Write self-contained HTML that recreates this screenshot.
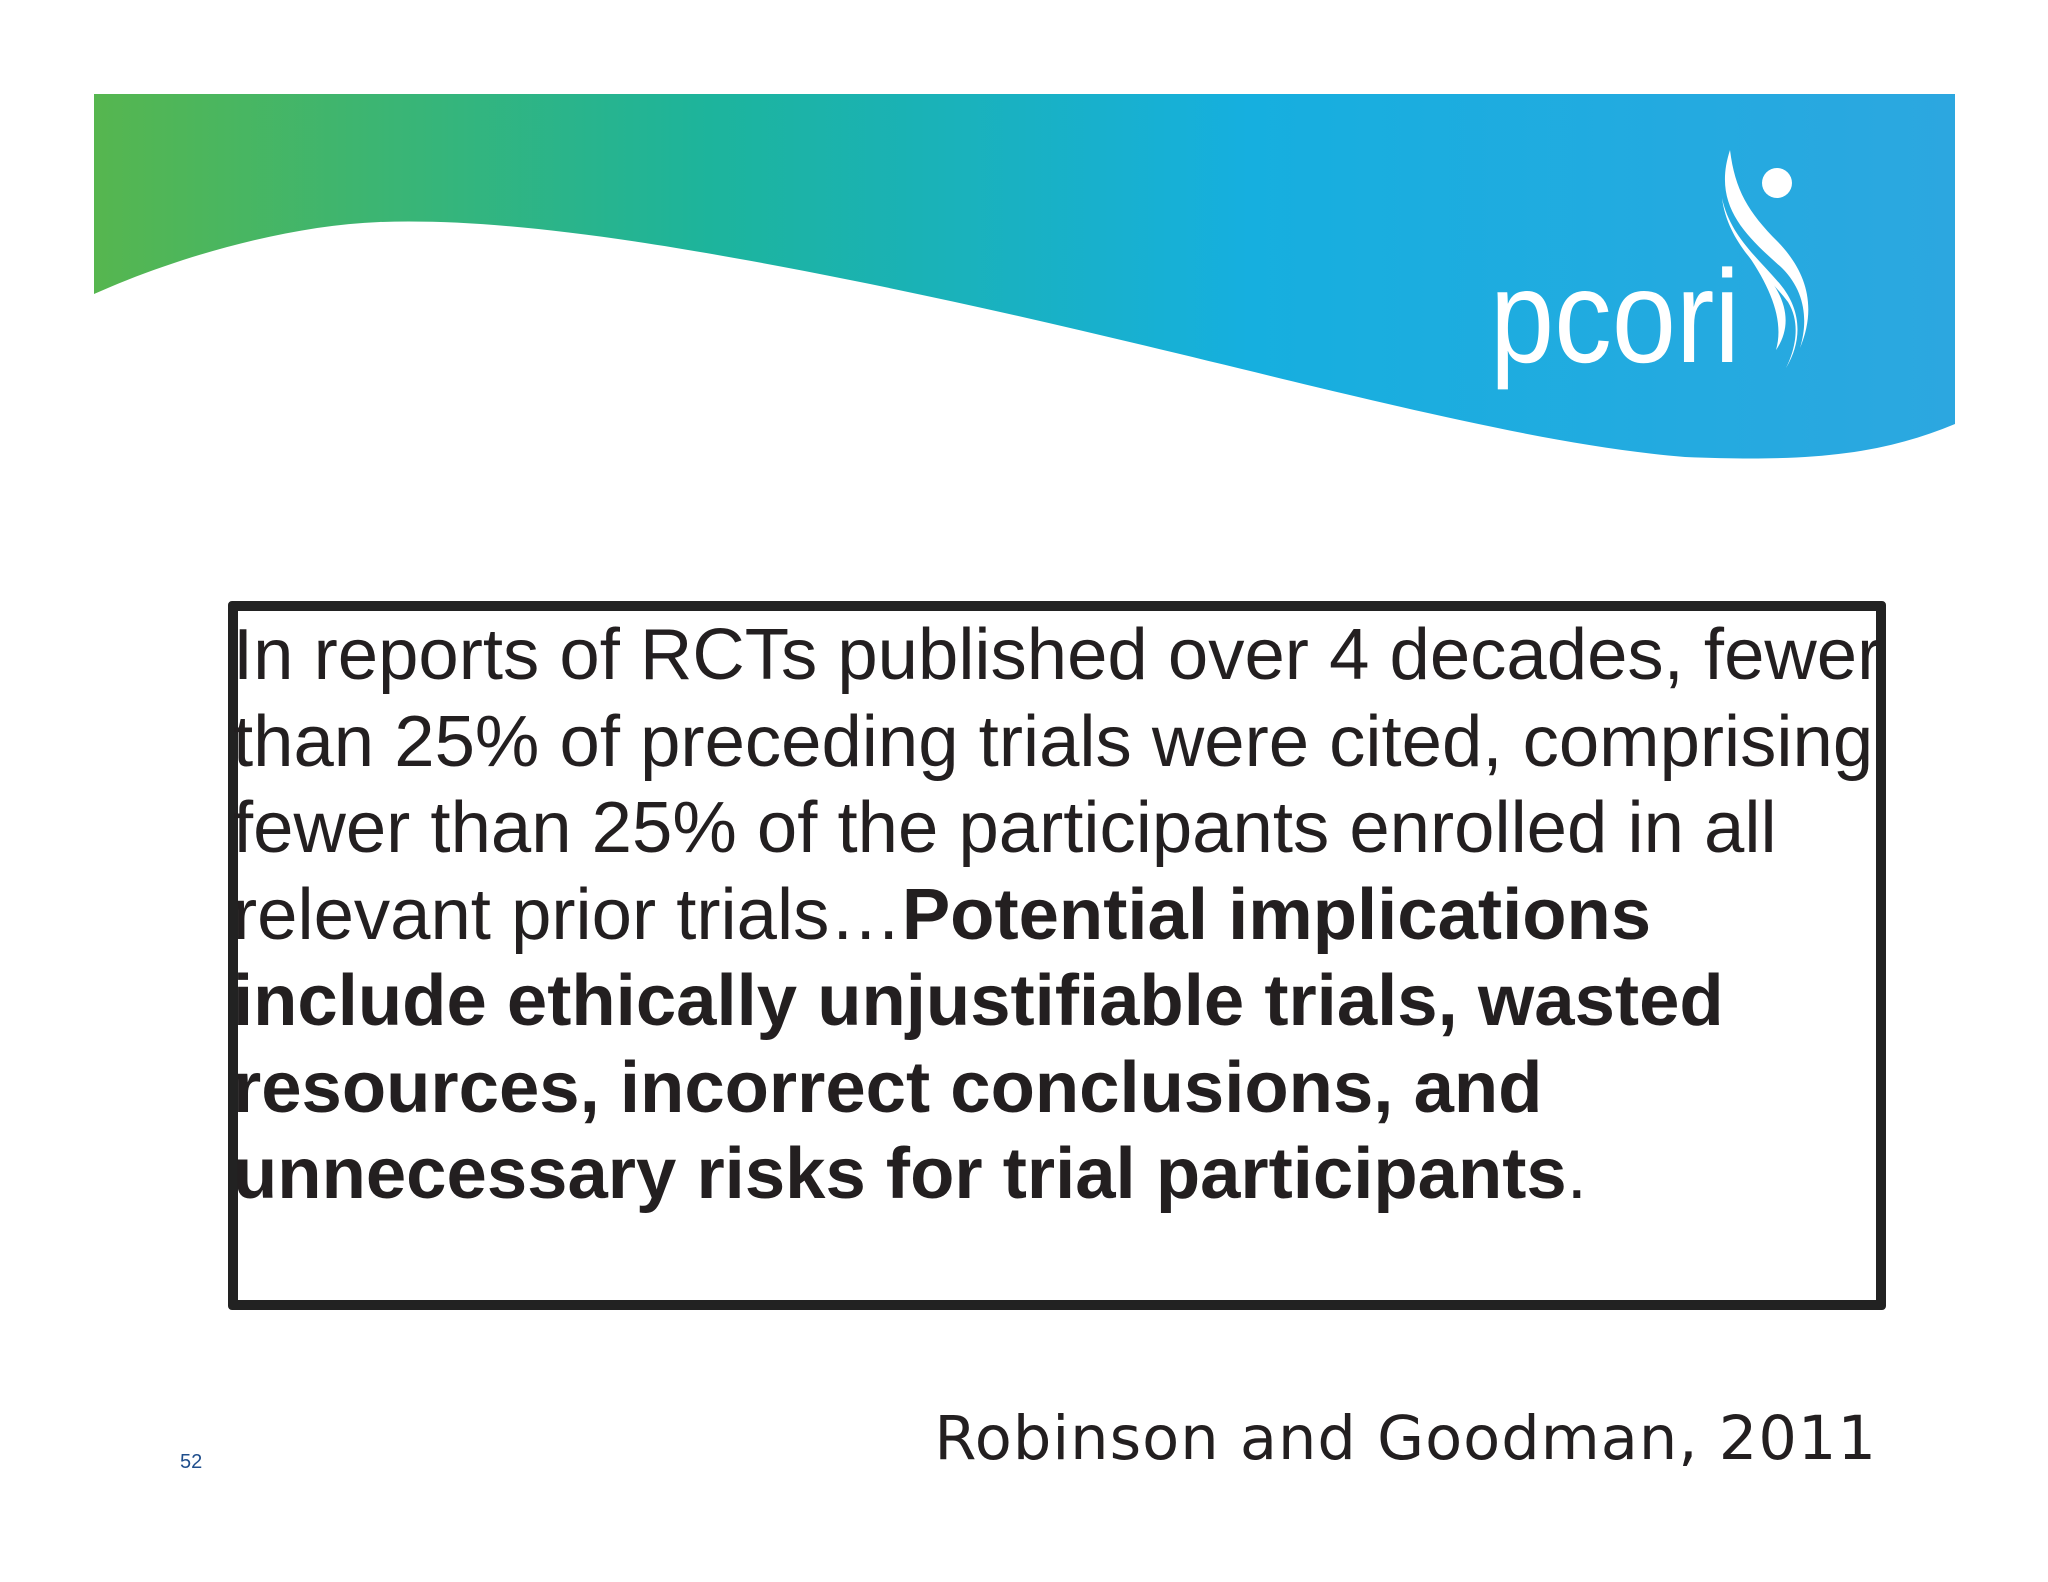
<!DOCTYPE html>
<html><head><meta charset="utf-8">
<style>
html,body{margin:0;padding:0;background:#fff;}
body{width:2048px;height:1582px;position:relative;overflow:hidden;font-family:"Liberation Sans",Arial,sans-serif;}
#box{position:absolute;left:228px;top:601px;width:1638px;height:689px;border:10px solid #222;border-radius:4px;box-sizing:content-box;}
#quote{position:absolute;left:233px;top:612px;width:1700px;font-size:72.5px;line-height:86.5px;color:#231f20;margin:0;}
#cite{position:absolute;right:171px;top:1404px;font-family:"DejaVu Sans",sans-serif;font-size:60.6px;color:#231f20;letter-spacing:1px;}
#pg{position:absolute;left:180px;top:1451px;font-size:20px;color:#1f4e8c;}
</style></head>
<body>
<svg width="2048" height="520" style="position:absolute;left:0;top:0">
<defs>
<linearGradient id="g" x1="94" y1="0" x2="1955" y2="0" gradientUnits="userSpaceOnUse">
<stop offset="0" stop-color="#56b64f"/>
<stop offset="0.33" stop-color="#1db49c"/>
<stop offset="0.62" stop-color="#16afdf"/>
<stop offset="1" stop-color="#2ca7e0"/>
</linearGradient>
</defs>
<path d="M94,94 L1955,94 L1955,424 C1880,455 1810,462 1685,457 C1480,440 1200,350 850,280 C650,240 500,218 380,222 C280,226 170,260 94,294 Z" fill="url(#g)"/>
<g fill="#fff">
<text x="1490" y="362" font-family="Liberation Sans, sans-serif" font-size="132" textLength="250" lengthAdjust="spacingAndGlyphs" fill="#fff">pcori</text>
<circle cx="1777" cy="183" r="15"/>
<path d="M1730,150 C1712,205 1745,235 1782,268 C1806,292 1808,322 1800,348 C1818,305 1805,270 1778,242 C1748,212 1735,190 1730,150 Z"/>
<path d="M1722,198 C1728,245 1765,272 1788,302 C1802,325 1794,352 1786,368 C1804,338 1800,308 1780,284 C1758,258 1730,236 1722,198 Z"/>
<path d="M1748,255 C1772,290 1784,322 1776,350 C1795,322 1786,290 1748,255 Z"/>
</g>
</svg>
<div id="box"></div>
<p id="quote">In reports of RCTs published over 4 decades, fewer<br>than 25% of preceding trials were cited, comprising<br>fewer than 25% of the participants enrolled in all<br>relevant prior trials…<b>Potential implications<br>include ethically unjustifiable trials, wasted<br>resources, incorrect conclusions, and<br>unnecessary risks for trial participants</b>.</p>
<div id="cite">Robinson and Goodman, 2011</div>
<div id="pg">52</div>
</body></html>
